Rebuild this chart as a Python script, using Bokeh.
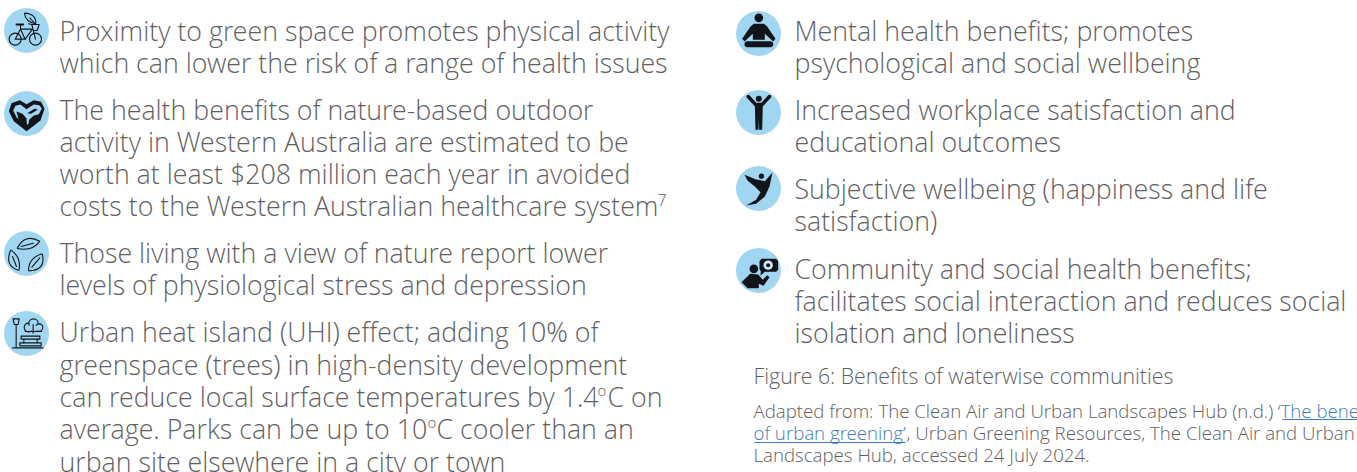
from bokeh.plotting import figure
from bokeh.models import Range1d
from bokeh.core.properties import value
from bokeh.embed import file_html
from bokeh.resources import INLINE

TEXT_COLOR = "#5f6062"
LINK_COLOR = "#3f7cc0"
CIRCLE = "#a0d6f1"
INK = "#111418"
FONT = value("Open Sans Light")

left_text = [
    "Proximity to green space promotes physical activity",
    "which can lower the risk of a range of health issues",
    "The health benefits of nature-based outdoor",
    "activity in Western Australia are estimated to be",
    "worth at least $208 million each year in avoided",
    "costs to the Western Australian healthcare system",
    "Those living with a view of nature report lower",
    "levels of physiological stress and depression",
    "Urban heat island (UHI) effect; adding 10% of",
    "greenspace (trees) in high-density development",
    "can reduce local surface temperatures by 1.4",
    "average. Parks can be up to 10",
    "urban site elsewhere in a city or town",
]
left_y = [30, 62, 109, 141, 173, 205, 252, 284, 331, 364, 396, 428, 461]

right_text = [
    "Mental health benefits; promotes",
    "psychological and social wellbeing",
    "Increased workplace satisfaction and",
    "educational outcomes",
    "Subjective wellbeing (happiness and life",
    "satisfaction)",
    "Community and social health benefits;",
    "facilitates social interaction and reduces social",
    "isolation and loneliness",
]
right_y = [30, 62, 109, 141, 188, 220, 268, 300, 332]

caption = "Figure 6: Benefits of waterwise communities"
source_a = "Adapted from: The Clean Air and Urban Landscapes Hub (n.d.) "
source_link_a = "\u2018The benefits"
source_link_b = "of urban greening\u2019"
source_b = ", Urban Greening Resources, The Clean Air and Urban"
source_c = "Landscapes Hub, accessed 24 July 2024."

circle_x = [26, 26, 26, 26, 758, 758, 758, 758]
circle_y = [30, 113, 253, 333, 33, 112, 188, 270]
circle_r = 22.5

p = figure(width=1357, height=472, output_backend="svg", toolbar_location=None,
           x_range=Range1d(0, 1357), y_range=Range1d(472, 0),
           min_border=0, outline_line_color=None, background_fill_color="white",
           border_fill_color="white", x_axis_location=None, y_axis_location=None)
p.grid.visible = False


def t(x, y, s, size=26.75, color=TEXT_COLOR, baseline="middle"):
    p.text([x], [y], text=[s], text_font=FONT, text_font_size=f"{size}px",
           text_color=color, text_baseline=baseline, text_align="left")


for s, y in zip(left_text, left_y):
    t(59, y, s)
for s, y in zip(right_text, right_y):
    t(794, y, s)

# superscripts and continuations
t(657, 199, "7", 16)
t(597, 389, "o", 15)
t(607, 396, "C on")
t(427, 421, "o", 15)
t(436, 428, "C cooler than an")

t(753, 375, caption, 21.33)
t(753, 410, source_a, 18.67)
t(1277, 410, source_link_a, 18.67, LINK_COLOR)
t(753, 432, source_link_b, 18.67, LINK_COLOR)
t(906, 432, source_b, 18.67)
t(753, 454, source_c, 18.67)
p.segment([1282, 754], [419, 442], [1357, 905], [419, 442], line_color=LINK_COLOR, line_width=1)

# icon discs
p.circle(circle_x, circle_y, radius=circle_r, fill_color=CIRCLE, line_color=None)


def Z(ox, oy, pts):
    return [ox + a / 3 for a, _ in pts], [oy + b / 3 for _, b in pts]


def poly(ox, oy, pts, color=INK):
    xs, ys = Z(ox, oy, pts)
    p.patch(xs, ys, fill_color=color, line_color=None)


def stroke(ox, oy, pts, w=1.1, color=INK, cap="round"):
    xs, ys = Z(ox, oy, pts)
    p.line(xs, ys, line_color=color, line_width=w, line_cap=cap, line_join="round")


def disc(ox, oy, cx, cy, r, fill=INK, line=None, w=1.1):
    p.circle([ox + cx / 3], [oy + cy / 3], radius=r / 3, fill_color=fill, line_color=line, line_width=w)


def leaf(ox, oy, a, b, c1, c2, w=1.1):
    for c in (c1, c2):
        p.quadratic([ox + a[0] / 3], [oy + a[1] / 3], [ox + b[0] / 3], [oy + b[1] / 3],
                    [ox + c[0] / 3], [oy + c[1] / 3], line_color=INK, line_width=w)


# 1 bicycle
disc(0, 0, 44, 116, 18, None, INK)
disc(0, 0, 105, 116, 18, None, INK)
stroke(0, 0, [(44, 116), (60, 86), (96, 86), (74, 116), (44, 116)])
stroke(0, 0, [(60, 86), (74, 116)])
stroke(0, 0, [(105, 116), (94, 72), (84, 70)])
stroke(0, 0, [(48, 72), (68, 72)], 2)
stroke(0, 0, [(60, 72), (60, 86)])
stroke(0, 0, [(94, 72), (116, 72), (110, 90), (98, 90)])
leaf(0, 0, (106, 70), (72, 38), (108, 40), (74, 64))
stroke(0, 0, [(106, 72), (88, 52)])

# 2 heart with leaves
poly(0, 0, [(78, 392), (40, 362), (25, 332), (33, 308), (58, 299), (78, 311), (100, 299), (122, 304),
            (132, 325), (120, 360)])
poly(0, 0, [(78, 374), (48, 350), (38, 330), (45, 316), (60, 312), (78, 326), (100, 312), (116, 314),
            (124, 324), (110, 350)], CIRCLE)
poly(0, 0, [(48, 333), (66, 340), (78, 354), (80, 384), (66, 372), (54, 355)])
poly(0, 0, [(122, 340), (100, 345), (86, 358), (82, 384), (102, 374), (116, 358)])
poly(0, 0, [(80, 338), (102, 325), (112, 327), (92, 340)])

# 3 recycling leaves
ox3, oy3 = 0, 220
leaf(ox3, oy3, (50, 84), (118, 62), (72, 38), (96, 94))
stroke(ox3, oy3, [(62, 78), (98, 68)])
leaf(ox3, oy3, (55, 150), (31, 88), (10, 135), (64, 112))
stroke(ox3, oy3, [(48, 138), (36, 108)])
leaf(ox3, oy3, (84, 151), (125, 100), (138, 150), (84, 112))
stroke(ox3, oy3, [(94, 140), (118, 112)])

# 4 lamp, tree and bench
ox4, oy4 = 0, 220
stroke(ox4, oy4, [(47, 312), (47, 380)])
stroke(ox4, oy4, [(38, 295), (56, 295), (53, 312), (41, 312), (38, 295)])
stroke(ox4, oy4, [(36, 382), (128, 382)])
stroke(ox4, oy4, [(62, 347), (118, 347), (118, 356), (62, 356), (62, 347)])
stroke(ox4, oy4, [(58, 367), (122, 367), (122, 376), (58, 376), (58, 367)])
stroke(ox4, oy4, [(70, 356), (70, 367)])
stroke(ox4, oy4, [(110, 356), (110, 367)])
for cx, cy, r in [(84, 321, 13), (99, 309, 14), (116, 321, 11)]:
    disc(ox4, oy4, cx, cy, r, CIRCLE, INK)
poly(ox4, oy4, [(80, 316), (118, 316), (118, 330), (80, 330)], CIRCLE)
stroke(ox4, oy4, [(74, 333), (124, 333)])
stroke(ox4, oy4, [(98, 312), (98, 338)])

# 5 seated figure
ox5, oy5 = 725, 0
disc(ox5, oy5, 100, 52, 13)
poly(ox5, oy5, [(85, 70), (115, 70), (125, 78), (150, 115), (143, 123), (118, 100), (118, 118), (82, 118),
                (82, 100), (57, 123), (50, 115), (75, 78)])
stroke(ox5, oy5, [(66, 131), (134, 131)], 6)

# 6 standing figure, arms raised
disc(ox5, oy5, 100, 295, 9)
stroke(ox5, oy5, [(68, 288), (90, 312), (110, 312), (132, 288)], 3.5)
poly(ox5, oy5, [(88, 310), (112, 310), (110, 388), (101, 388), (100, 350), (99, 388), (90, 388)])

# 7 leaping figure
ox7, oy7 = 725, 160
disc(ox7, oy7, 108, 47, 8)
poly(ox7, oy7, [(57, 43), (90, 56), (118, 62), (141, 36), (132, 78), (118, 108), (92, 130), (62, 135),
                (92, 118), (105, 95), (88, 78), (66, 60)])

# 8 speaker with bubble
disc(ox7, oy7, 85, 325, 13)
poly(ox7, oy7, [(48, 365), (74, 340), (98, 342), (112, 358), (125, 344), (132, 350), (114, 376), (100, 370),
                (100, 383), (66, 383)])
poly(ox7, oy7, [(108, 295), (152, 295), (158, 302), (158, 328), (152, 334), (118, 334), (105, 345), (106, 332),
                (102, 326), (102, 302)])
disc(ox7, oy7, 128, 314, 14, "#cfe9f6")
disc(ox7, oy7, 128, 314, 6)

open("out.html", "w").write(file_html(p, INLINE))
